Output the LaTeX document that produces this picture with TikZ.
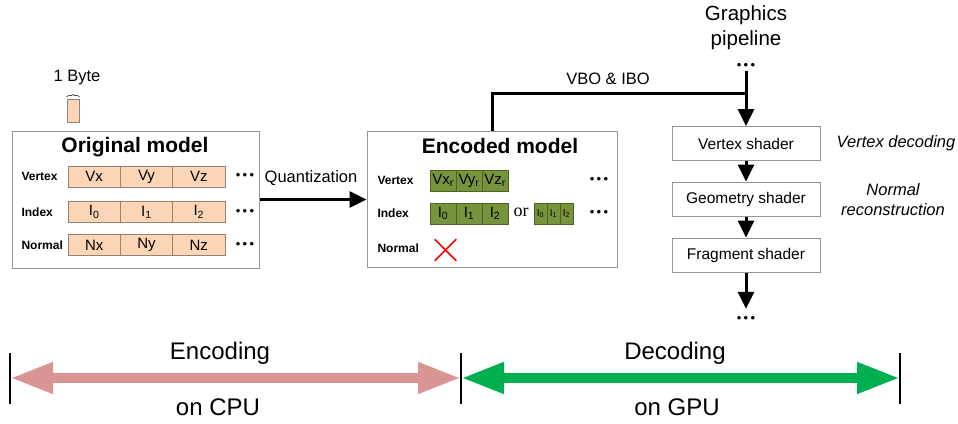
\documentclass[tikz,border=0pt]{standalone}
\usepackage{fontspec}
\setmainfont{Liberation Sans}
\newfontfamily\orfont{Liberation Serif}
\usetikzlibrary{arrows.meta,decorations.pathreplacing,shapes.misc}
\definecolor{peach}{RGB}{251,213,181}
\definecolor{peachline}{RGB}{150,130,115}
\definecolor{olive}{RGB}{119,147,60}
\definecolor{oliveline}{RGB}{79,98,40}
\definecolor{boxline}{RGB}{150,150,150}
\definecolor{cpupink}{RGB}{217,149,148}
\definecolor{gpugreen}{RGB}{0,176,80}
\newcommand{\tdots}{\textbullet\hspace{2.4pt}\textbullet\hspace{2.4pt}\textbullet}
\begin{document}
\begin{tikzpicture}[x=1pt,y=-1pt,
    panel/.style={draw=boxline,line width=1pt,inner sep=0pt},
    title/.style={font=\fontsize{21}{24}\selectfont\bfseries},
    rowlab/.style={anchor=west,font=\fontsize{12}{14}\selectfont\bfseries},
    origcell/.style={draw=peachline,fill=peach,line width=0.8pt,minimum width=52.3pt,minimum height=21pt,inner sep=0pt,font=\fontsize{15}{17}\selectfont},
    enccell/.style={draw=oliveline,fill=olive,line width=0.8pt,minimum width=26pt,minimum height=21pt,inner sep=0pt,font=\fontsize{15}{17}\selectfont},
    tinycell/.style={draw=oliveline,fill=olive,line width=0.8pt,minimum width=13pt,minimum height=21pt,inner sep=0pt,font=\fontsize{10}{12}\selectfont},
    moredots/.style={inner sep=2pt,font=\fontsize{13}{15}\selectfont},
    shader/.style={draw=boxline,line width=1pt,minimum width=148pt,minimum height=34pt,inner sep=0pt,font=\fontsize{15.5}{18}\selectfont},
    note/.style={font=\fontsize{16.5}{20}\selectfont\itshape,align=center},
    plain/.style={font=\fontsize{16.5}{20}\selectfont},
    big/.style={font=\fontsize{24}{28}\selectfont},
    flow/.style={line width=3pt,-{Triangle[width=16pt,length=17pt]}},
    thickline/.style={line width=3pt},
    tick/.style={line width=2pt},
    cpuarrow/.style={cpupink,line width=10pt,{Triangle[width=29pt,length=43pt]}-{Triangle[width=29pt,length=43pt]}},
    gpuarrow/.style={gpugreen,line width=10pt,{Triangle[width=29pt,length=43pt]}-{Triangle[width=29pt,length=43pt]}}]
\useasboundingbox (0,0) rectangle (958,423);

% one byte
\node at (77,78) [plain] (bytetext) {1 Byte};
\node at (73,110.5) [draw=peachline,fill=peach,line width=0.8pt,minimum width=12pt,minimum height=23pt,inner sep=0pt] (byte) {};
\draw[decorate,decoration={brace,amplitude=2pt},line width=0.6pt] ([yshift=2pt]byte.north west) -- ([yshift=2pt]byte.north east);

% original model
\node at (135.5,199.5) [panel,minimum width=247pt,minimum height=137pt] (orig) {};
\node at (135,147) [title] (origtitle) {Original model};
\node at (18,176.5) [rowlab] (ovlab) {Vertex};
\node at (18,212) [rowlab] (oilab) {Index};
\node at (18,245) [rowlab] (onlab) {Normal};
\node at (94.2,176.5) [origcell] (ov1) {Vx};
\node at (146.5,176.5) [origcell] (ov2) {Vy};
\node at (198.8,176.5) [origcell] (ov3) {Vz};
\node at (94.2,212) [origcell] (oi1) {I\textsubscript{0}};
\node at (146.5,212) [origcell] (oi2) {I\textsubscript{1}};
\node at (198.8,212) [origcell] (oi3) {I\textsubscript{2}};
\node at (94.2,245) [origcell] (on1) {Nx};
\node at (146.5,245) [origcell] (on2) {Ny};
\node at (198.8,245) [origcell] (on3) {Nz};
\node at (245,176.5) [moredots] (ovdots) {\tdots};
\node at (245,212) [moredots] (oidots) {\tdots};
\node at (245,245) [moredots] (ondots) {\tdots};

% encoded model
\node at (492,199) [panel,minimum width=250pt,minimum height=136pt] (enc) {};
\node at (500,146) [title] (enctitle) {Encoded model};
\node at (374,180.5) [rowlab] (evlab) {Vertex};
\node at (374,213.5) [rowlab] (eilab) {Index};
\node at (374,248) [rowlab] (enlab) {Normal};
\node at (443,180.5) [enccell] (ev1) {Vx\textsubscript{r}};
\node at (469,180.5) [enccell] (ev2) {Vy\textsubscript{r}};
\node at (495,180.5) [enccell] (ev3) {Vz\textsubscript{r}};
\node at (443,213.5) [enccell] (ei1) {I\textsubscript{0}};
\node at (469,213.5) [enccell] (ei2) {I\textsubscript{1}};
\node at (495,213.5) [enccell] (ei3) {I\textsubscript{2}};
\node at (521,212) [font=\fontsize{18}{20}\selectfont\orfont] (eor) {or};
\node at (540.5,213.5) [tinycell] (et1) {I\textsubscript{0}};
\node at (553.5,213.5) [tinycell] (et2) {I\textsubscript{1}};
\node at (566.5,213.5) [tinycell] (et3) {I\textsubscript{2}};
\node at (599,180.5) [moredots] (evdots) {\tdots};
\node at (599,213.5) [moredots] (eidots) {\tdots};
\node at (445.5,250) [cross out,draw=red,line width=1.5pt,minimum size=20pt,inner sep=0pt] (nonormal) {};

% quantization
\draw[flow] (orig.east) -- (orig.east -| enc.west);
\node at (311,178) [plain] (quant) {Quantization};

% graphics pipeline
\node at (746,28) [font=\fontsize{20.5}{25}\selectfont,align=center] (pipe) {Graphics\\pipeline};
\node at (746,66) [moredots] (topdots) {\tdots};
\node at (746,143.5) [shader] (vs) {Vertex shader};
\node at (746,199) [shader] (gs) {Geometry shader};
\node at (746,255) [shader] (fs) {Fragment shader};
\node at (746,319) [moredots] (botdots) {\tdots};
\coordinate (join) at (746,93);
\draw[flow] (topdots.south) -- (vs.north);
\draw[thickline] (enc.north) |- (join);
\node at (608,79) [plain] (vbo) {VBO \& IBO};
\draw[flow] (vs) -- (gs);
\draw[flow] (gs) -- (fs);
\draw[flow] (fs.south) -- ([yshift=5pt]botdots.north);
\node at (896,143) [note] (vdec) {Vertex decoding};
\node at (893,200) [note] (nrec) {Normal\\reconstruction};

% cpu / gpu
\coordinate (cpuleft) at (10,378);
\coordinate (split) at (461,378);
\coordinate (gpuright) at (900,378);
\draw[cpuarrow] (cpuleft) -- (split);
\draw[gpuarrow] (split) -- (gpuright);
\draw[tick] (cpuleft) ++(0,-25) -- ++(0,51);
\draw[tick] (split) ++(0,-25) -- ++(0,51);
\draw[tick] (gpuright) ++(0,-25) -- ++(0,51);
\node at (220,353) [big] (enctext) {Encoding};
\node at (218,407) [big] (cputext) {on CPU};
\node at (675,353) [big] (dectext) {Decoding};
\node at (677,407) [big] (gputext) {on GPU};
\end{tikzpicture}
\end{document}
